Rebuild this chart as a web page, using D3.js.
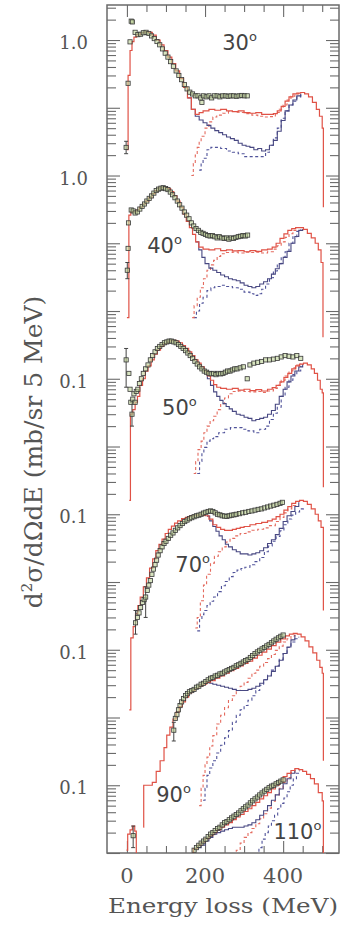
<!DOCTYPE html>
<html lang="en">
<head>
<meta charset="UTF-8">
<title>Inclusive spectra vs energy loss</title>
<script src="https://d3js.org/d3.v7.min.js"></script>
<style>
  body { margin: 0; background: #fff; }
  svg { display: block; background: #fff; }
</style>
</head>
<body>
<script>
const width = 340, height = 938;
const frame = {left: 107, right: 339, top: 5, bottom: 853};

// one panel per angle, each shifted down by a power of ten
const angles = ['30', '40', '50', '70', '90', '110'];
const offsets = [1, 1e-2, 1e-4, 1e-6, 1e-8, 1e-10];
const yTickValues = [1, 1e-2, 1e-5, 1e-7, 1e-9, 1e-11];
const yTickLabels = ['1.0', '1.0', '0.1', '0.1', '0.1', '0.1'];
const xTickLabels = [0, 200, 400];
// [energy, value] where each angle label starts (baseline)
const angleLabelPos = [[244, 0.71], [52, 0.072], [90, 0.029], [124, 0.014], [75, 0.00056], [375, 0.0163]];

// ---- 30 deg ----
const calc30 = [[0, 0.024], [3, 0.3], [8, 0.7], [13, 0.95], [18, 1.1], [25, 1.2], [35, 1.28], [45, 1.32], [55, 1.3], [65, 1.18], [75, 1.0], [85, 0.85], [95, 0.7], [105, 0.56], [115, 0.45], [125, 0.35], [135, 0.27], [145, 0.2], [155, 0.14], [165, 0.095], [175, 0.08], [185, 0.085], [195, 0.09], [210, 0.095], [225, 0.092], [240, 0.095], [255, 0.09], [270, 0.088], [285, 0.09], [300, 0.085], [315, 0.083], [330, 0.085], [345, 0.08], [360, 0.08], [375, 0.082], [385, 0.09], [395, 0.105], [405, 0.125], [415, 0.145], [425, 0.16], [435, 0.165], [445, 0.168], [455, 0.16], [465, 0.145], [475, 0.12], [485, 0.095], [493, 0.075], [500, 0.05], [503, 0.0034]];
const calcB30 = [[155, 0.14], [165, 0.095], [175, 0.075], [185, 0.066], [195, 0.06], [205, 0.055], [215, 0.05], [225, 0.046], [235, 0.043], [245, 0.04], [255, 0.037], [265, 0.035], [275, 0.033], [285, 0.03], [295, 0.028], [305, 0.027], [315, 0.026], [325, 0.024], [335, 0.025], [345, 0.023], [355, 0.024], [365, 0.028], [375, 0.033], [385, 0.045], [395, 0.065], [405, 0.09], [415, 0.11], [425, 0.13], [435, 0.15], [445, 0.16]];
const delta30 = [[165, 0.01], [170, 0.015], [175, 0.02], [180, 0.026], [185, 0.032], [190, 0.038], [200, 0.05], [210, 0.062], [220, 0.073], [230, 0.078], [245, 0.083], [260, 0.088], [275, 0.086], [290, 0.085], [305, 0.082], [320, 0.078], [335, 0.075], [350, 0.073], [365, 0.074], [380, 0.085], [390, 0.095], [400, 0.11], [410, 0.13], [420, 0.148], [430, 0.16], [440, 0.165]];
const deltaB30 = [[185, 0.012], [190, 0.015], [195, 0.018], [205, 0.024], [215, 0.026], [225, 0.026], [240, 0.025], [255, 0.023], [270, 0.022], [285, 0.021], [300, 0.019], [315, 0.019], [330, 0.019], [345, 0.019], [355, 0.022], [365, 0.028], [375, 0.036], [385, 0.05], [395, 0.07], [405, 0.09], [415, 0.11], [425, 0.125], [435, 0.145], [445, 0.158]];
const exp30 = [[-2, 0.026], [3, 0.23], [8, 0.94], [11, 1.9], [14, 1.85], [21, 1.3], [28, 1.2], [35, 1.22], [42, 1.28], [49, 1.3], [56, 1.25], [63, 1.15], [70, 1.05], [77, 0.95], [84, 0.85], [91, 0.74], [98, 0.64], [105, 0.56], [112, 0.48], [119, 0.41], [126, 0.35], [133, 0.3], [140, 0.26], [147, 0.22], [154, 0.19], [161, 0.17], [168, 0.16], [175, 0.15], [182, 0.15], [189, 0.14], [192, 0.12], [196, 0.15], [203, 0.145], [210, 0.15], [217, 0.14], [224, 0.15], [231, 0.15], [238, 0.145], [245, 0.15], [252, 0.15], [259, 0.148], [266, 0.15], [273, 0.15], [280, 0.148], [287, 0.15], [294, 0.152], [301, 0.15], [308, 0.15]];
const err30 = [[-2, 0.021, 0.032]];

// ---- 40 deg ----
const calc40 = [[0, 0.008], [5, 0.26], [10, 0.29], [18, 0.29], [25, 0.31], [32, 0.34], [40, 0.38], [48, 0.42], [56, 0.47], [64, 0.54], [72, 0.6], [80, 0.65], [88, 0.67], [96, 0.67], [104, 0.64], [112, 0.58], [120, 0.5], [128, 0.42], [136, 0.34], [144, 0.27], [152, 0.21], [160, 0.17], [168, 0.135], [176, 0.105], [184, 0.088], [195, 0.082], [210, 0.08], [225, 0.083], [240, 0.078], [255, 0.08], [270, 0.077], [285, 0.078], [300, 0.075], [315, 0.078], [330, 0.076], [345, 0.08], [360, 0.082], [372, 0.088], [382, 0.1], [392, 0.118], [402, 0.138], [412, 0.155], [422, 0.165], [432, 0.17], [442, 0.17], [452, 0.16], [462, 0.14], [472, 0.12], [482, 0.1], [490, 0.08], [497, 0.052], [502, 0.0041]];
const calcB40 = [[176, 0.105], [184, 0.08], [192, 0.062], [200, 0.05], [210, 0.043], [220, 0.04], [230, 0.037], [240, 0.034], [250, 0.032], [260, 0.03], [270, 0.029], [280, 0.028], [290, 0.026], [300, 0.024], [310, 0.023], [320, 0.022], [330, 0.023], [340, 0.025], [350, 0.027], [360, 0.03], [370, 0.035], [380, 0.042], [390, 0.05], [400, 0.062], [410, 0.076], [420, 0.1], [430, 0.126], [440, 0.155], [450, 0.162]];
const delta40 = [[167, 0.008], [172, 0.012], [180, 0.016], [188, 0.022], [196, 0.03], [205, 0.04], [214, 0.048], [222, 0.056], [231, 0.064], [240, 0.07], [255, 0.073], [270, 0.074], [285, 0.072], [300, 0.074], [315, 0.073], [330, 0.074], [345, 0.072], [360, 0.075], [375, 0.082], [385, 0.092], [395, 0.105], [405, 0.122], [415, 0.138], [425, 0.155], [435, 0.165]];
const deltaB40 = [[171, 0.008], [178, 0.01], [186, 0.013], [195, 0.016], [205, 0.02], [215, 0.022], [225, 0.023], [240, 0.024], [255, 0.023], [270, 0.022], [285, 0.021], [300, 0.019], [315, 0.018], [325, 0.017], [335, 0.018], [345, 0.021], [355, 0.025], [365, 0.031], [375, 0.039], [385, 0.05], [395, 0.062], [405, 0.075], [415, 0.1], [425, 0.125], [435, 0.15], [445, 0.16]];
const exp40 = [[1, 0.04], [3, 0.084], [4, 0.2], [11, 0.31], [16, 0.3], [21, 0.28], [27, 0.29], [33, 0.32], [39, 0.35], [45, 0.38], [51, 0.42], [57, 0.46], [63, 0.5], [69, 0.55], [75, 0.6], [81, 0.63], [87, 0.65], [93, 0.66], [99, 0.64], [105, 0.62], [111, 0.57], [117, 0.52], [123, 0.47], [129, 0.42], [135, 0.37], [141, 0.33], [147, 0.29], [153, 0.26], [159, 0.23], [165, 0.2], [171, 0.18], [177, 0.165], [183, 0.155], [189, 0.145], [195, 0.14], [201, 0.135], [207, 0.13], [213, 0.128], [219, 0.13], [225, 0.125], [231, 0.12], [237, 0.125], [243, 0.12], [249, 0.118], [255, 0.12], [261, 0.115], [267, 0.12], [273, 0.118], [279, 0.122], [285, 0.125], [291, 0.127], [297, 0.13], [303, 0.128], [309, 0.132]];
const err40 = [[1, 0.03, 0.052]];

// ---- 50 deg ----
const calc50 = [[6, 0.0016], [9, 0.03], [15, 0.035], [21, 0.045], [27, 0.055], [33, 0.08], [40, 0.1], [47, 0.13], [54, 0.155], [62, 0.19], [70, 0.23], [78, 0.265], [86, 0.3], [94, 0.33], [102, 0.35], [110, 0.365], [118, 0.37], [126, 0.36], [134, 0.34], [142, 0.31], [150, 0.28], [158, 0.25], [166, 0.22], [174, 0.19], [182, 0.17], [190, 0.15], [198, 0.13], [206, 0.11], [214, 0.095], [222, 0.082], [230, 0.075], [240, 0.072], [255, 0.07], [270, 0.072], [285, 0.068], [300, 0.07], [315, 0.067], [330, 0.069], [345, 0.066], [360, 0.07], [372, 0.074], [382, 0.08], [392, 0.09], [402, 0.105], [412, 0.12], [422, 0.14], [432, 0.155], [442, 0.165], [452, 0.17], [462, 0.16], [472, 0.14], [480, 0.12], [488, 0.095], [495, 0.07], [500, 0.062], [503, 0.0025]];
const calcB50 = [[198, 0.13], [206, 0.1], [214, 0.08], [222, 0.064], [230, 0.055], [238, 0.048], [246, 0.043], [254, 0.039], [262, 0.036], [270, 0.033], [280, 0.03], [290, 0.029], [300, 0.027], [310, 0.026], [320, 0.024], [330, 0.025], [340, 0.026], [350, 0.027], [360, 0.03], [370, 0.034], [380, 0.042], [390, 0.055], [400, 0.07], [410, 0.09], [420, 0.11], [430, 0.13], [440, 0.15], [450, 0.165]];
const delta50 = [[171, 0.004], [176, 0.006], [182, 0.009], [190, 0.012], [197, 0.016], [205, 0.02], [213, 0.024], [222, 0.028], [231, 0.035], [240, 0.043], [250, 0.052], [260, 0.06], [270, 0.065], [285, 0.066], [300, 0.065], [315, 0.064], [330, 0.065], [345, 0.063], [360, 0.066], [375, 0.072], [385, 0.08], [395, 0.095], [405, 0.11], [415, 0.13], [425, 0.145], [435, 0.16], [445, 0.168]];
const deltaB50 = [[180, 0.004], [186, 0.006], [192, 0.008], [197, 0.0097], [205, 0.012], [213, 0.013], [222, 0.014], [235, 0.016], [250, 0.018], [265, 0.019], [280, 0.019], [295, 0.018], [310, 0.017], [325, 0.016], [340, 0.018], [355, 0.02], [365, 0.025], [375, 0.031], [385, 0.038], [395, 0.055], [405, 0.075], [415, 0.095], [425, 0.115], [435, 0.13], [445, 0.155]];
const exp50 = [[-2, 0.19], [5, 0.12], [8, 0.07], [10, 0.045], [13, 0.03], [15, 0.05], [18, 0.06], [21, 0.045], [24, 0.065], [28, 0.07], [32, 0.085], [37, 0.1], [42, 0.12], [48, 0.14], [54, 0.16], [60, 0.19], [66, 0.22], [72, 0.25], [78, 0.28], [84, 0.3], [90, 0.32], [96, 0.34], [102, 0.35], [108, 0.36], [114, 0.36], [120, 0.35], [126, 0.34], [132, 0.32], [138, 0.3], [144, 0.28], [150, 0.26], [156, 0.24], [162, 0.22], [168, 0.2], [174, 0.18], [180, 0.165], [186, 0.15], [192, 0.14], [198, 0.13], [204, 0.125], [210, 0.12], [216, 0.118], [222, 0.12], [228, 0.115], [234, 0.12], [240, 0.118], [246, 0.12], [252, 0.125], [258, 0.13], [264, 0.13], [270, 0.135], [276, 0.14], [282, 0.14], [290, 0.145], [298, 0.15], [308, 0.1], [315, 0.16], [325, 0.17], [335, 0.175], [345, 0.18], [355, 0.19], [365, 0.19], [375, 0.195], [385, 0.2], [395, 0.21], [405, 0.22], [415, 0.215], [425, 0.21], [435, 0.22], [445, 0.2]];
const err50 = [[-2, 0.075, 0.28], [13, 0.02, 0.045]];

// ---- 70 deg ----
const calc70 = [[6, 0.00013], [10, 0.0015], [16, 0.0022], [22, 0.0034], [28, 0.0045], [34, 0.006], [42, 0.0085], [50, 0.0115], [58, 0.016], [66, 0.022], [74, 0.029], [82, 0.036], [90, 0.043], [98, 0.052], [106, 0.06], [114, 0.067], [122, 0.074], [130, 0.08], [140, 0.086], [150, 0.09], [160, 0.094], [170, 0.096], [180, 0.098], [190, 0.097], [200, 0.095], [210, 0.085], [220, 0.07], [230, 0.064], [240, 0.06], [250, 0.058], [260, 0.058], [270, 0.06], [280, 0.062], [290, 0.064], [300, 0.066], [315, 0.07], [330, 0.073], [345, 0.076], [360, 0.08], [372, 0.085], [382, 0.092], [392, 0.1], [402, 0.115], [412, 0.13], [422, 0.145], [432, 0.155], [442, 0.16], [452, 0.155], [462, 0.14], [472, 0.12], [482, 0.1], [490, 0.08], [497, 0.064], [503, 0.0038]];
const calcB70 = [[205, 0.094], [212, 0.08], [220, 0.066], [228, 0.056], [236, 0.048], [244, 0.042], [252, 0.036], [260, 0.033], [270, 0.03], [280, 0.028], [290, 0.026], [300, 0.026], [310, 0.025], [320, 0.026], [330, 0.027], [340, 0.029], [350, 0.032], [360, 0.037], [370, 0.042], [380, 0.05], [390, 0.062], [400, 0.078], [410, 0.095], [420, 0.11], [430, 0.13], [440, 0.15]];
const delta70 = [[175, 0.0021], [180, 0.003], [188, 0.0053], [196, 0.009], [204, 0.013], [214, 0.019], [224, 0.024], [234, 0.028], [244, 0.033], [254, 0.039], [264, 0.044], [276, 0.048], [290, 0.052], [305, 0.055], [320, 0.058], [335, 0.06], [350, 0.063], [365, 0.068], [380, 0.078], [392, 0.09], [402, 0.105], [412, 0.12], [422, 0.135], [432, 0.15]];
const deltaB70 = [[180, 0.0019], [186, 0.0028], [192, 0.0033], [197, 0.0038], [205, 0.0045], [213, 0.0052], [222, 0.006], [232, 0.0072], [242, 0.0088], [252, 0.0102], [262, 0.012], [272, 0.0138], [282, 0.015], [292, 0.0158], [302, 0.0165], [315, 0.018], [328, 0.02], [340, 0.023], [352, 0.028], [362, 0.034], [372, 0.04], [382, 0.047], [392, 0.057], [402, 0.07], [412, 0.085], [422, 0.097], [432, 0.108], [442, 0.12], [452, 0.13]];
const exp70 = [[22, 0.0025], [27, 0.003], [31, 0.0035], [35, 0.0042], [40, 0.005], [44, 0.0055], [48, 0.006], [52, 0.0075], [56, 0.009], [60, 0.0105], [64, 0.013], [68, 0.0155], [72, 0.018], [76, 0.021], [80, 0.025], [85, 0.029], [90, 0.033], [95, 0.037], [100, 0.04], [106, 0.044], [112, 0.049], [118, 0.053], [124, 0.058], [130, 0.063], [136, 0.068], [142, 0.073], [148, 0.078], [154, 0.082], [160, 0.086], [166, 0.089], [172, 0.092], [178, 0.095], [184, 0.097], [190, 0.1], [196, 0.104], [202, 0.107], [208, 0.11], [214, 0.112], [220, 0.11], [226, 0.105], [232, 0.1], [238, 0.098], [244, 0.095], [250, 0.094], [256, 0.093], [262, 0.095], [268, 0.097], [274, 0.098], [280, 0.1], [288, 0.102], [296, 0.105], [304, 0.107], [312, 0.11], [320, 0.112], [328, 0.115], [336, 0.118], [344, 0.12], [352, 0.124], [360, 0.128], [368, 0.132], [376, 0.136], [384, 0.14], [392, 0.145], [398, 0.15]];
const err70 = [[22, 0.0017, 0.0038], [48, 0.003, 0.0085]];

// ---- 90 deg ----
const calc90 = [[42, 0.00024], [43, 0.001], [55, 0.001], [65, 0.0011], [75, 0.0016], [85, 0.0023], [95, 0.0036], [102, 0.0055], [110, 0.0072], [118, 0.0095], [126, 0.012], [134, 0.0145], [142, 0.017], [150, 0.02], [158, 0.023], [166, 0.025], [174, 0.027], [184, 0.029], [194, 0.031], [204, 0.033], [214, 0.035], [226, 0.038], [238, 0.041], [250, 0.045], [262, 0.049], [274, 0.053], [286, 0.058], [298, 0.063], [310, 0.068], [322, 0.075], [334, 0.083], [346, 0.092], [358, 0.102], [370, 0.115], [382, 0.13], [394, 0.145], [406, 0.16], [416, 0.17], [426, 0.175], [436, 0.17], [446, 0.155], [456, 0.135], [466, 0.11], [476, 0.09], [486, 0.07], [494, 0.055], [500, 0.045], [503, 0.0023]];
const calcB90 = [[204, 0.033], [212, 0.032], [220, 0.031], [230, 0.03], [240, 0.029], [250, 0.028], [260, 0.027], [270, 0.026], [280, 0.025], [290, 0.025], [300, 0.025], [310, 0.026], [320, 0.027], [330, 0.029], [340, 0.032], [350, 0.036], [360, 0.041], [370, 0.048], [380, 0.057], [390, 0.07], [400, 0.088], [410, 0.11], [420, 0.14], [430, 0.165]];
const delta90 = [[185, 0.0005], [190, 0.0009], [195, 0.0014], [200, 0.002], [205, 0.0026], [212, 0.0038], [220, 0.0054], [230, 0.008], [240, 0.0108], [250, 0.014], [260, 0.0178], [270, 0.021], [280, 0.025], [290, 0.029], [300, 0.033], [310, 0.038], [320, 0.045], [330, 0.05], [340, 0.057], [350, 0.065], [360, 0.074], [370, 0.085], [380, 0.098], [390, 0.113], [400, 0.13], [410, 0.145], [420, 0.16], [430, 0.17]];
const deltaB90 = [[195, 0.0006], [200, 0.0009], [205, 0.0014], [212, 0.0018], [220, 0.0023], [230, 0.003], [240, 0.0039], [250, 0.005], [260, 0.0064], [270, 0.0085], [280, 0.0108], [290, 0.013], [300, 0.015], [310, 0.018], [320, 0.021], [330, 0.025], [340, 0.03], [350, 0.036], [360, 0.042], [370, 0.05], [380, 0.058], [390, 0.072], [400, 0.088], [410, 0.108], [420, 0.13], [430, 0.145], [440, 0.155]];
const exp90 = [[120, 0.0065], [124, 0.0097], [128, 0.011], [132, 0.013], [136, 0.015], [140, 0.017], [145, 0.019], [150, 0.021], [155, 0.0225], [160, 0.024], [166, 0.025], [172, 0.026], [178, 0.028], [184, 0.029], [190, 0.031], [196, 0.032], [202, 0.034], [208, 0.036], [214, 0.038], [220, 0.039], [226, 0.041], [232, 0.042], [238, 0.044], [244, 0.045], [250, 0.047], [256, 0.049], [262, 0.051], [268, 0.053], [274, 0.055], [280, 0.058], [286, 0.06], [292, 0.063], [298, 0.066], [304, 0.069], [310, 0.072], [316, 0.077], [322, 0.082], [328, 0.088], [334, 0.093], [340, 0.098], [346, 0.103], [352, 0.108], [358, 0.114], [364, 0.12], [370, 0.127], [376, 0.135], [382, 0.143], [388, 0.15], [394, 0.158], [400, 0.165]];
const err90 = [[120, 0.0045, 0.0085]];

// ---- 110 deg ----
const calcLow110 = [[-1, 0.011], [2, 0.019], [8, 0.022], [14, 0.025], [20, 0.021], [24, 0.01]];
const calc110 = [[165, 0.0095], [170, 0.0116], [180, 0.013], [190, 0.0145], [200, 0.0163], [210, 0.018], [220, 0.02], [230, 0.022], [240, 0.024], [250, 0.026], [260, 0.028], [270, 0.031], [280, 0.034], [290, 0.037], [300, 0.041], [310, 0.045], [320, 0.05], [330, 0.056], [340, 0.063], [350, 0.07], [360, 0.078], [370, 0.088], [380, 0.1], [390, 0.115], [400, 0.134], [410, 0.15], [420, 0.165], [430, 0.176], [440, 0.17], [450, 0.16], [460, 0.145], [470, 0.125], [480, 0.105], [490, 0.078], [500, 0.059], [503, 0.005]];
const calcB110 = [[180, 0.012], [190, 0.013], [200, 0.015], [210, 0.017], [220, 0.019], [230, 0.02], [240, 0.021], [250, 0.022], [260, 0.023], [270, 0.024], [280, 0.024], [290, 0.024], [300, 0.025], [310, 0.026], [320, 0.028], [330, 0.031], [340, 0.036], [350, 0.042], [360, 0.05], [370, 0.06], [380, 0.072], [390, 0.088], [400, 0.105], [410, 0.125], [420, 0.15], [430, 0.17]];
const delta110 = [[272, 0.008], [280, 0.011], [290, 0.014], [300, 0.017], [310, 0.02], [320, 0.023], [330, 0.027], [340, 0.032], [350, 0.038], [360, 0.046], [370, 0.058], [380, 0.072], [390, 0.09], [400, 0.11], [410, 0.13], [420, 0.155], [430, 0.17]];
const deltaB110 = [[330, 0.008], [338, 0.012], [346, 0.016], [354, 0.02], [362, 0.025], [370, 0.03], [378, 0.036], [386, 0.045], [394, 0.054], [402, 0.065], [410, 0.08], [418, 0.1], [426, 0.125], [434, 0.15], [442, 0.165]];
const exp110 = [[16, 0.018], [172, 0.011], [178, 0.012], [184, 0.013], [190, 0.014], [196, 0.015], [202, 0.016], [208, 0.0175], [214, 0.019], [220, 0.02], [226, 0.0215], [232, 0.023], [238, 0.024], [244, 0.026], [250, 0.028], [256, 0.029], [262, 0.031], [268, 0.033], [274, 0.035], [280, 0.037], [286, 0.039], [292, 0.042], [298, 0.045], [304, 0.048], [310, 0.051], [316, 0.055], [322, 0.059], [328, 0.063], [334, 0.067], [340, 0.072], [346, 0.077], [352, 0.082], [358, 0.087], [364, 0.092], [370, 0.097], [376, 0.1], [382, 0.105], [388, 0.11], [394, 0.115], [400, 0.12]];
const err110 = [[16, 0.012, 0.025]];

const panels = [
  {calc: [calc30], calcB: calcB30, delta: delta30, deltaB: deltaB30, exp: exp30, err: err30},
  {calc: [calc40], calcB: calcB40, delta: delta40, deltaB: deltaB40, exp: exp40, err: err40},
  {calc: [calc50], calcB: calcB50, delta: delta50, deltaB: deltaB50, exp: exp50, err: err50},
  {calc: [calc70], calcB: calcB70, delta: delta70, deltaB: deltaB70, exp: exp70, err: err70},
  {calc: [calc90], calcB: calcB90, delta: delta90, deltaB: deltaB90, exp: exp90, err: err90},
  {calc: [calc110, calcLow110], calcB: calcB110, delta: delta110, deltaB: deltaB110, exp: exp110, err: err110}
];

const red = '#e05246', blue = '#484882', redDash = '#e46a5e', blueDash = '#50539a';
const axisColor = '#6a6a6a', textColor = '#555';

const svg = d3.select('body').append('svg')
    .attr('width', width)
    .attr('height', height);

const x = d3.scaleLinear().domain([-51, 543]).range([frame.left, frame.right]);
const y = d3.scaleLog().domain([1e-12, Math.pow(10, 0.517)]).range([frame.bottom, frame.top]);

svg.append('clipPath').attr('id', 'plot')
  .append('rect')
    .attr('x', frame.left).attr('y', frame.top)
    .attr('width', frame.right - frame.left)
    .attr('height', frame.bottom - frame.top);

// log ticks over all decades
const minorY = [], majorY = [];
for (let k = -12; k <= 0; k++) {
    for (let m = 1; m <= 9; m++) {
        const v = m * Math.pow(10, k);
        if (v > y.domain()[1]) continue;
        (m === 1 ? majorY : minorY).push(v);
    }
}
const majorX = [0, 200, 400];
const minorX = [50, 100, 150, 250, 300, 350, 450, 500];

function tickAxis(axis, tr) {
    svg.append('g')
        .attr('transform', tr)
        .attr('color', axisColor)
        .call(axis)
        .call(g => g.select('.domain').remove())
        .call(g => g.selectAll('.tick line').attr('stroke-width', 1.1));
}
tickAxis(d3.axisRight(y).tickValues(minorY).tickSize(9).tickFormat(''), `translate(${frame.left},0)`);
tickAxis(d3.axisRight(y).tickValues(majorY).tickSize(13).tickFormat(''), `translate(${frame.left},0)`);
tickAxis(d3.axisLeft(y).tickValues(minorY).tickSize(9).tickFormat(''), `translate(${frame.right},0)`);
tickAxis(d3.axisLeft(y).tickValues(majorY).tickSize(13).tickFormat(''), `translate(${frame.right},0)`);
tickAxis(d3.axisBottom(x).tickValues(minorX).tickSize(7).tickFormat(''), `translate(0,${frame.top})`);
tickAxis(d3.axisBottom(x).tickValues(majorX).tickSize(12).tickFormat(''), `translate(0,${frame.top})`);
tickAxis(d3.axisTop(x).tickValues(minorX).tickSize(7).tickFormat(''), `translate(0,${frame.bottom})`);
tickAxis(d3.axisTop(x).tickValues(majorX).tickSize(12).tickFormat(''), `translate(0,${frame.bottom})`);

svg.append('rect')
    .attr('x', frame.left).attr('y', frame.top)
    .attr('width', frame.right - frame.left)
    .attr('height', frame.bottom - frame.top)
    .attr('fill', 'none')
    .attr('stroke', axisColor)
    .attr('stroke-width', 1.5);

// tick labels
svg.append('g').selectAll('text')
    .data(yTickValues)
    .join('text')
    .attr('x', 88)
    .attr('y', d => y(d) + 9)
    .attr('text-anchor', 'end')
    .attr('font-family', 'DejaVu Serif, serif')
    .attr('font-size', 18)
    .attr('fill', textColor)
    .text((d, i) => yTickLabels[i]);

svg.append('g').selectAll('text')
    .data(xTickLabels)
    .join('text')
    .attr('x', d => x(d))
    .attr('y', 883)
    .attr('text-anchor', 'middle')
    .attr('font-family', 'DejaVu Serif, serif')
    .attr('font-size', 21)
    .attr('fill', textColor)
    .text(d => d);

svg.append('text')
    .attr('x', 108)
    .attr('y', 913)
    .attr('textLength', 230)
    .attr('lengthAdjust', 'spacingAndGlyphs')
    .attr('font-family', 'DejaVu Serif, serif')
    .attr('font-size', 21)
    .attr('fill', textColor)
    .text('Energy loss (MeV)');

const yTitle = svg.append('text')
    .attr('transform', 'translate(42,452) rotate(-90)')
    .attr('text-anchor', 'middle')
    .attr('font-family', 'DejaVu Serif, serif')
    .attr('font-size', 25)
    .attr('fill', textColor);
yTitle.append('tspan').text('d');
yTitle.append('tspan').attr('dy', -10).attr('font-size', 15).text('2');
yTitle.append('tspan').attr('dy', 10).text('σ/dΩdE (mb/sr 5 MeV)');

// curves and data
const plot = svg.append('g').attr('clip-path', 'url(#plot)');

panels.forEach((p, i) => {
    const f = offsets[i];
    const line = d3.line()
        .x(d => x(d[0]))
        .y(d => y(d[1] * f))
        .curve(d3.curveStepAfter);
    const g = plot.append('g');

    g.append('path').attr('d', line(p.deltaB))
        .attr('fill', 'none').attr('stroke', blueDash)
        .attr('stroke-width', 1.1).attr('stroke-dasharray', '3,2.5');
    g.append('path').attr('d', line(p.delta))
        .attr('fill', 'none').attr('stroke', redDash)
        .attr('stroke-width', 1.1).attr('stroke-dasharray', '3,2.5');
    g.append('path').attr('d', line(p.calcB))
        .attr('fill', 'none').attr('stroke', blue)
        .attr('stroke-width', 1.1);
    p.calc.forEach(c => {
        g.append('path').attr('d', line(c))
            .attr('fill', 'none').attr('stroke', red)
            .attr('stroke-width', 1.2);
    });

    g.selectAll('g.err')
        .data(p.err)
        .join('g')
        .each(function(d) {
            const e = d3.select(this);
            e.append('line')
                .attr('x1', x(d[0])).attr('x2', x(d[0]))
                .attr('y1', y(d[1] * f)).attr('y2', y(d[2] * f));
            [d[1], d[2]].forEach(v => e.append('line')
                .attr('x1', x(d[0]) - 2).attr('x2', x(d[0]) + 2)
                .attr('y1', y(v * f)).attr('y2', y(v * f)));
        })
        .attr('stroke', '#444')
        .attr('stroke-width', 1);

    g.selectAll('rect')
        .data(p.exp)
        .join('rect')
        .attr('x', d => x(d[0]) - 2.1)
        .attr('y', d => y(d[1] * f) - 2.1)
        .attr('width', 4.2)
        .attr('height', 4.2)
        .attr('fill', 'rgba(190,210,150,0.6)')
        .attr('stroke', '#383838')
        .attr('stroke-width', 0.8);
});

// angle labels
angles.forEach((a, i) => {
    const pos = angleLabelPos[i];
    const t = svg.append('text')
        .attr('x', x(pos[0]))
        .attr('y', y(pos[1] * offsets[i]))
        .attr('font-family', 'DejaVu Sans, sans-serif')
        .attr('font-size', 21)
        .attr('fill', '#444');
    t.append('tspan').text(a);
    t.append('tspan').attr('dy', -9).attr('font-size', 13).text('o');
});
</script>
</body>
</html>
